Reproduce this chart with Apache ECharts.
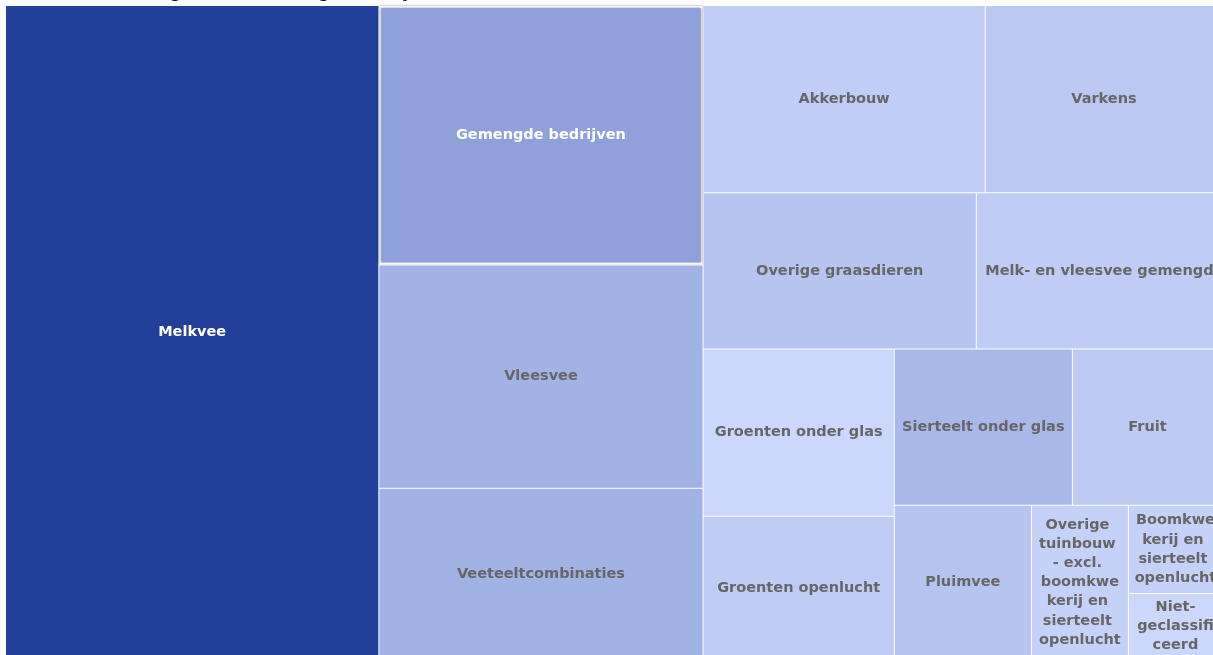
<!DOCTYPE html>
<html>
<head>
<meta charset="utf-8">
<title>Bedrijfstypen</title>
<script src="https://cdn.jsdelivr.net/npm/echarts@6/dist/echarts.min.js"></script>
<style>
  html, body { margin: 0; padding: 0; overflow: hidden; background: #fff; }
  #chart { width: 1230px; height: 670px; }
</style>
</head>
<body>
<div id="chart"></div>
<script>
const titleText = 'Verdeling naar de omvang in bedrijven'

const sectorNames = [
  'Melkvee',
  'Gemengde bedrijven',
  'Vleesvee',
  'Veeteeltcombinaties',
  'Akkerbouw',
  'Varkens',
  'Overige graasdieren',
  'Melk- en vleesvee gemengd',
  'Groenten onder glas',
  'Groenten openlucht',
  'Sierteelt onder glas',
  'Fruit',
  'Pluimvee',
  'Overige tuinbouw - excl. boomkwekerij en sierteelt openlucht',
  'Boomkwekerij en sierteelt openlucht',
  'Niet-geclassificeerd'
]
const sectorValues = [15950, 5495, 4731, 3628, 3453, 2902, 2789, 2513, 2089, 1789, 1818, 1532, 1382, 978, 542, 406]
const sectorColors = [
  '#22409a', '#8fa1da', '#a1b2e4', '#a1b2e4',
  '#c0cdf6', '#bac8f2', '#b6c5f0', '#bfcdf5',
  '#cbd7fb', '#bfcdf5', '#a8b8e8', '#bdcbf4',
  '#b6c5f0', '#c5d2f8', '#c5d2f8', '#cbd7fb'
]
const whiteLabels = ['Melkvee', 'Gemengde bedrijven']

// nesting of the cells (indexes into sectorNames) so the squarify layout
// cuts the area the same way the original does
const cellGroups = [0, [[1, 2, 3], [4, 5, [[6, 7], [8, 9, [[10, 11], [12, 13, 14, 15]]]]]]]

const toNode = (entry) => {
  if (Array.isArray(entry)) {
    return { name: '', children: entry.map(toNode) }
  }
  const name = sectorNames[entry]
  const node = {
    name,
    value: sectorValues[entry],
    itemStyle: { color: sectorColors[entry] },
    label: { color: whiteLabels.includes(name) ? '#ffffff' : '#666666' }
  }
  if (name === 'Gemengde bedrijven') {
    node.itemStyle.borderWidth = 2
    node.itemStyle.borderColor = '#ffffff'
    node.itemStyle.shadowBlur = 2
    node.itemStyle.shadowColor = 'rgba(0,0,0,0.45)'
  }
  return node
}

const chart = echarts.init(document.getElementById('chart'))

chart.setOption({
  animation: false,
  title: {
    text: titleText,
    left: 94,
    top: -26,
    textStyle: {
      fontFamily: 'Liberation Serif',
      fontStyle: 'italic',
      fontWeight: 'normal',
      fontSize: 22,
      color: '#000'
    }
  },
  series: [
    {
      type: 'treemap',
      left: 6,
      top: 6,
      width: 1216,
      height: 653,
      roam: false,
      nodeClick: false,
      sort: false,
      squareRatio: 1.2,
      breadcrumb: { show: false },
      itemStyle: { borderWidth: 0, gapWidth: 1, borderColor: '#ffffff' },
      label: {
        show: true,
        position: 'inside',
        fontFamily: 'DejaVu Sans',
        fontSize: 14.5,
        fontWeight: 'bold',
        lineHeight: 19.2,
        padding: [2, 5],
        align: 'center',
        overflow: 'break',
        // wrap after a hyphen inside a word, like "Niet-" / "geclassificeerd"
        formatter: (params) => params.name.replace(/-(?=\S)/, '-\n')
      },
      data: cellGroups.map(toNode)
    }
  ]
})
</script>
</body>
</html>
